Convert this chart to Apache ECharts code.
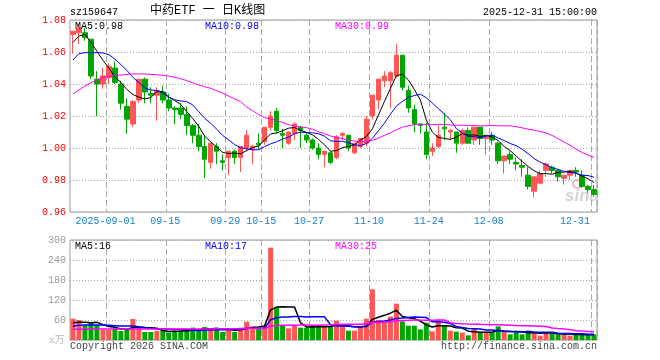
<!DOCTYPE html>
<html><head><meta charset="utf-8">
<script src="https://cdn.jsdelivr.net/npm/echarts@6/dist/echarts.min.js"></script>
<style>html,body{margin:0;padding:0;background:#fff}#c{width:660px;height:360px}</style>
</head><body><div id="c"></div>
<script>
const dates = ['2025-08-22','2025-08-25','2025-08-26','2025-08-27','2025-08-28','2025-08-29',
'2025-09-01','2025-09-02','2025-09-03','2025-09-04','2025-09-05','2025-09-08','2025-09-09','2025-09-10','2025-09-11','2025-09-12',
'2025-09-15','2025-09-16','2025-09-17','2025-09-18','2025-09-19','2025-09-22','2025-09-23','2025-09-24','2025-09-25','2025-09-26',
'2025-09-29','2025-09-30','2025-10-09','2025-10-10','2025-10-13','2025-10-14','2025-10-15','2025-10-16','2025-10-17',
'2025-10-20','2025-10-21','2025-10-22','2025-10-23','2025-10-24','2025-10-27','2025-10-28','2025-10-29','2025-10-30','2025-10-31',
'2025-11-03','2025-11-04','2025-11-05','2025-11-06','2025-11-07','2025-11-10','2025-11-11','2025-11-12','2025-11-13','2025-11-14',
'2025-11-17','2025-11-18','2025-11-19','2025-11-20','2025-11-21','2025-11-24','2025-11-25','2025-11-26','2025-11-27','2025-11-28',
'2025-12-01','2025-12-02','2025-12-03','2025-12-04','2025-12-05','2025-12-08','2025-12-09','2025-12-10','2025-12-11','2025-12-12',
'2025-12-15','2025-12-16','2025-12-17','2025-12-18','2025-12-19','2025-12-22','2025-12-23','2025-12-24','2025-12-25','2025-12-26',
'2025-12-29','2025-12-30','2025-12-31'];

const opens = [1.071,1.072,1.072,1.068,1.043,1.040,1.044,1.050,1.040,1.026,
1.015,1.030,1.043,1.034,1.033,1.035,1.030,1.025,1.025,1.021,
1.014,1.008,1.001,0.991,1.001,0.992,0.994,0.998,0.994,1.000,
0.999,1.003,1.004,1.013,1.023,1.009,1.003,1.009,1.013,1.008,
1.005,1.000,0.996,0.997,0.994,1.008,1.008,0.997,1.001,1.003,
1.020,1.030,1.042,1.042,1.045,1.058,1.036,1.024,1.015,1.010,
0.998,1.001,1.013,1.010,1.010,1.003,1.011,1.005,1.013,1.006,
1.008,1.003,0.992,0.996,0.991,0.989,0.983,0.973,0.978,0.986,
0.988,0.986,0.981,0.983,0.986,0.983,0.976,0.974];

const closes = [1.073,1.075,1.069,1.045,1.040,1.045,1.051,1.041,1.028,1.018,
1.029,1.043,1.035,1.033,1.036,1.030,1.025,1.024,1.021,1.014,
1.008,1.001,0.993,1.003,0.998,0.991,0.998,0.994,1.001,1.008,
1.001,1.002,1.013,1.020,1.011,1.008,1.010,1.015,1.011,1.005,
1.000,0.996,0.998,0.991,1.007,1.009,1.000,1.003,1.006,1.018,
1.033,1.043,1.045,1.047,1.058,1.038,1.025,1.015,1.014,0.996,
1.000,1.008,1.012,1.011,1.003,1.011,1.003,1.013,1.006,1.007,
1.005,0.992,0.995,0.993,0.990,0.988,0.976,0.982,0.984,0.990,
0.986,0.982,0.983,0.986,0.985,0.976,0.974,0.971];

const lows = [1.059,1.065,1.067,1.043,1.020,1.037,1.040,1.040,1.024,1.009,
1.013,1.028,1.028,1.028,1.017,1.028,1.023,1.015,1.018,1.008,
1.003,0.998,0.981,0.987,0.990,0.986,0.983,0.990,0.985,0.998,
0.990,0.999,1.002,1.011,1.009,1.000,1.002,1.005,1.000,1.003,
0.999,0.993,0.988,0.990,0.993,1.005,0.998,0.996,1.000,1.001,
1.018,1.024,1.038,1.025,1.044,1.036,1.022,1.010,1.009,0.993,
0.995,1.000,1.005,1.005,0.997,1.002,1.003,1.002,1.002,0.996,
1.002,0.990,0.984,0.990,0.986,0.982,0.974,0.969,0.978,0.982,
0.984,0.979,0.977,0.980,0.982,0.975,0.972,0.970];

const highs = [1.073,1.077,1.075,1.068,1.048,1.050,1.053,1.054,1.042,1.031,
1.030,1.043,1.044,1.038,1.038,1.039,1.034,1.026,1.028,1.026,
1.015,1.015,1.008,1.003,1.003,0.996,0.998,0.999,1.001,1.011,
1.002,1.009,1.013,1.023,1.025,1.012,1.010,1.016,1.014,1.010,
1.006,1.003,0.998,0.998,1.008,1.010,1.008,1.003,1.006,1.020,
1.033,1.043,1.048,1.048,1.065,1.058,1.039,1.027,1.015,1.016,
1.003,1.014,1.022,1.012,1.010,1.012,1.013,1.013,1.013,1.007,
1.010,1.004,0.995,0.998,0.994,0.993,0.988,0.982,0.986,0.991,
0.989,0.987,0.983,0.986,0.988,0.986,0.977,0.977];

// volume, 万
const volumes = [64,60,44,52,45,30,30,35,27,34,
63,37,24,24,27,32,22,27,27,32,
37,30,39,30,37,24,32,24,37,55,
41,37,42,277,97,45,35,42,37,37,
45,39,41,40,58,43,28,28,38,64,
152,60,56,70,109,56,43,43,32,52,
26,61,43,28,25,22,14,34,22,25,
23,41,25,17,23,17,28,22,13,24,
19,17,17,13,16,19,15,17];

const ma5Lead = [1.066,1.070,1.071,1.066];
const ma10Lead = [1.055,1.059,1.0596,1.0596,1.0596,1.0594,1.0583,1.0556,1.0521];
const ma30Lead = [1.0338,1.0363,1.0388,1.0408,1.0425,1.0442,1.045,1.0454,1.0456,1.046,
1.0463,1.0463,1.0463,1.046,1.0458,1.0454,1.045,1.0442,1.0433,1.0421,
1.0408,1.0394,1.0383,1.0373,1.0358,1.0342,1.0325,1.0306,1.029];
const vma5Lead = [52,53,53,52];
const vma10Lead = [41,44,45,45,45,45,44,43,42];
const vma30Lead = [32,32,32,33,33,33,33,33,33,33,33,33,33,33,33,33,33,33,33,33,33,33,33,33,34,34,34,34,34];

const tickDates = ['2025-09-01','2025-09-15','2025-09-29','2025-10-15','2025-10-27','2025-11-10','2025-11-24','2025-12-08','2025-12-31'];
const tickLabels = ['2025-09-01','09-15','09-29','10-15','10-27','11-10','11-24','12-08','12-31'];

const priceMin = 0.96, priceMax = 1.08, priceStep = 0.02;
const volMin = 0, volMax = 300, volStep = 60;

function movingAvg(vals, n, lead) {
  return vals.map((v, i) => {
    if (i < n - 1) return lead[i];
    let s = 0;
    for (let k = i - n + 1; k <= i; k++) s += vals[k];
    return s / n;
  });
}
const ma5 = movingAvg(closes, 5, ma5Lead);
const ma10 = movingAvg(closes, 10, ma10Lead);
const ma30 = movingAvg(closes, 30, ma30Lead);
const vma5 = movingAvg(volumes, 5, vma5Lead);
const vma10 = movingAvg(volumes, 10, vma10Lead);
const vma30 = movingAvg(volumes, 30, vma30Lead);

const UP = '#ff5555', DOWN = '#00a600';
const FONT = '"Liberation Mono", "DejaVu Sans Mono", monospace';
const GRID_C = '#a8a8a8';

const kData = dates.map((d, i) => [opens[i], closes[i], lows[i], highs[i]]);
const vData = volumes.map((v, i) => ({ value: v, itemStyle: { color: closes[i] >= opens[i] ? UP : DOWN } }));

const isTick = (idx, val) => tickDates.indexOf(val) >= 0;
const last = a => a[a.length - 1];

function txt(text, pos, color, size, extra) {
  return Object.assign({ type: 'text', z: 10, style: Object.assign({ text: text, fill: color, font: (size || 10) + 'px ' + FONT }, extra || {}) }, pos);
}

const chart = echarts.init(document.getElementById('c'), null, { renderer: 'canvas' });
chart.setOption({
  animation: false,
  backgroundColor: '#fff',
  grid: [
    { left: 70, top: 20, width: 527, height: 192, show: true, borderColor: '#999', borderWidth: 1, backgroundColor: 'transparent' },
    { left: 70, top: 240, width: 527, height: 100, show: true, borderColor: '#999', borderWidth: 1, backgroundColor: 'transparent' }
  ],
  xAxis: [
    { type: 'category', gridIndex: 0, data: dates, boundaryGap: true,
      axisLine: { show: false }, axisTick: { show: false },
      axisLabel: { interval: isTick, margin: 4, fontFamily: FONT, fontSize: 10, color: '#1a82d2',
        formatter: v => { const k = tickDates.indexOf(v); return k === tickDates.length - 1 ? '{e|' + tickLabels[k] + '}' : '{n|' + tickLabels[k] + '}'; },
        rich: { n: { padding: [0, 7, 0, 0], fontFamily: FONT, fontSize: 10, color: '#1a82d2' },
                e: { padding: [0, 38, 0, 0], fontFamily: FONT, fontSize: 10, color: '#1a82d2' } } },
      splitLine: { show: true, interval: isTick, lineStyle: { color: GRID_C, type: [6, 3], width: 1 } } },
    { type: 'category', gridIndex: 1, data: dates, boundaryGap: true,
      axisLine: { show: false }, axisTick: { show: false }, axisLabel: { show: false },
      splitLine: { show: true, interval: isTick, lineStyle: { color: GRID_C, type: [6, 3], width: 1 } } }
  ],
  yAxis: [
    { type: 'value', gridIndex: 0, min: priceMin, max: priceMax, interval: priceStep, scale: true,
      axisLine: { show: false }, axisTick: { show: false },
      axisLabel: { color: '#ff0000', fontFamily: FONT, fontSize: 10, margin: 4, formatter: v => v.toFixed(2) },
      splitLine: { show: true, lineStyle: { color: GRID_C, type: [1, 2], width: 1 } } },
    { type: 'value', gridIndex: 1, min: volMin, max: volMax, interval: volStep,
      axisLine: { show: false }, axisTick: { show: false },
      axisLabel: { color: '#999', fontFamily: FONT, fontSize: 10, margin: 4, formatter: v => v === 0 ? '' : String(v) },
      splitLine: { show: true, lineStyle: { color: GRID_C, type: [1, 2], width: 1 } } }
  ],
  series: [
    { type: 'candlestick', xAxisIndex: 0, yAxisIndex: 0, data: kData, barWidth: 5,
      itemStyle: { color: UP, color0: DOWN, borderColor: UP, borderColor0: DOWN, borderWidth: 1 } },
    { type: 'line', xAxisIndex: 0, yAxisIndex: 0, data: ma5, showSymbol: false, lineStyle: { color: '#000', width: 1 } },
    { type: 'line', xAxisIndex: 0, yAxisIndex: 0, data: ma10, showSymbol: false, lineStyle: { color: '#0000ff', width: 1 } },
    { type: 'line', xAxisIndex: 0, yAxisIndex: 0, data: ma30, showSymbol: false, lineStyle: { color: '#ff00ff', width: 1 } },
    { type: 'bar', xAxisIndex: 1, yAxisIndex: 1, data: vData, barWidth: 5 },
    { type: 'line', xAxisIndex: 1, yAxisIndex: 1, data: vma5, showSymbol: false, lineStyle: { color: '#000', width: 1.5 } },
    { type: 'line', xAxisIndex: 1, yAxisIndex: 1, data: vma10, showSymbol: false, lineStyle: { color: '#0000ff', width: 1.5 } },
    { type: 'line', xAxisIndex: 1, yAxisIndex: 1, data: vma30, showSymbol: false, lineStyle: { color: '#ff00ff', width: 1.5 } }
  ],
  graphic: [
    txt('sz159647', { left: 70, top: 7 }, '#000', 10),
    { type: 'text', z: 10, left: 150, top: 5, style: { text: '中药ETF 一 日K线图', fill: '#000', font: '12px "Liberation Mono", "Noto Sans CJK SC"' } },
    txt('2025-12-31 15:00:00', { right: 63, top: 7 }, '#000', 10),
    txt('MA5:' + last(ma5).toFixed(2), { left: 75, top: 21 }, '#000', 10),
    txt('MA10:' + last(ma10).toFixed(2), { left: 205, top: 21 }, '#0000ff', 10),
    txt('MA30:' + last(ma30).toFixed(2), { left: 335, top: 21 }, '#ff00ff', 10),
    txt('MA5:' + Math.round(last(vma5)), { left: 75, top: 241 }, '#000', 10),
    txt('MA10:' + Math.round(last(vma10)), { left: 205, top: 241 }, '#0000ff', 10),
    txt('MA30:' + Math.round(last(vma30)), { left: 335, top: 241 }, '#ff00ff', 10),
    { type: 'text', z: 10, left: 49, top: 335, style: { text: 'x万', fill: '#bbb', font: '10px "DejaVu Serif", "Noto Sans CJK SC"' } },
    txt('Copyright 2026 SINA.COM', { left: 70, top: 341 }, '#444', 10),
    txt('http://finance.sina.com.cn', { right: 63, top: 341 }, '#444', 10),
    { type: 'circle', z: 0, shape: { cx: 577, cy: 184, r: 4 }, style: { fill: 'none', stroke: '#f2b4b4', lineWidth: 2 } },
    { type: 'text', z: 0, left: 565, top: 188, style: { text: 'sina', fill: '#d4d4d4', font: 'italic bold 17px "Liberation Sans", Arial' } }
  ]
});
</script></body></html>
